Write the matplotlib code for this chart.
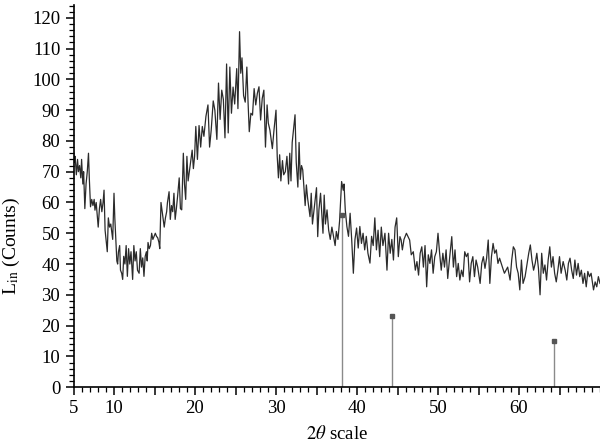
import matplotlib.pyplot as plt
from matplotlib.ticker import MultipleLocator, FixedLocator, FixedFormatter

plt.rcParams['font.family'] = 'Liberation Serif'
plt.rcParams['mathtext.fontset'] = 'stix'

# measured pattern (2theta in degrees, intensity in counts)
two_theta = [
    5.0, 5.1, 5.2, 5.35, 5.5, 5.6, 5.75, 5.9, 6.0, 6.15, 6.25, 6.4, 6.55, 6.7, 6.85, 6.95,
    7.1, 7.25, 7.4, 7.55, 7.65, 7.8, 7.95, 8.05, 8.2, 8.35, 8.5, 8.65, 8.77, 8.9, 9.05, 9.17,
    9.3, 9.45, 9.6, 9.75, 9.84, 10.0, 10.1, 10.25, 10.35, 10.45, 10.55, 10.7, 10.8, 10.95,
    11.07, 11.2, 11.35, 11.5, 11.65, 11.8, 11.95, 12.1, 12.3, 12.45, 12.6, 12.75, 12.9, 13.1,
    13.25, 13.4, 13.55, 13.7, 13.85, 14.0, 14.1, 14.2, 14.35, 14.5, 14.65, 14.8, 14.95, 15.1,
    15.25, 15.4, 15.55, 15.65, 15.8, 15.95, 16.05, 16.2, 16.35, 16.5, 16.6, 16.8, 16.95, 17.1,
    17.25, 17.4, 17.55, 17.7, 17.85, 18.05, 18.2, 18.36, 18.56, 18.7, 18.85, 19.0, 19.15,
    19.3, 19.5, 19.65, 19.8, 19.95, 20.1, 20.3, 20.5, 20.7, 20.9, 21.1, 21.35, 21.6, 21.8,
    22.0, 22.25, 22.45, 22.7, 22.9, 23.1, 23.3, 23.5, 23.7, 23.9, 24.1, 24.3, 24.5, 24.7,
    24.9, 25.15, 25.3, 25.5, 25.65, 25.8, 26.0, 26.2, 26.4, 26.55, 26.7, 26.9, 27.1, 27.3,
    27.5, 27.7, 27.9, 28.1, 28.3, 28.5, 28.7, 28.9, 29.05, 29.25, 29.55, 29.75, 30.0, 30.15,
    30.3, 30.45, 30.6, 30.8, 30.95, 31.15, 31.35, 31.55, 31.7, 31.85, 32.0, 32.35, 32.5,
    32.7, 32.85, 33.0, 33.15, 33.3, 33.6, 33.75, 33.9, 34.2, 34.35, 34.5, 34.7, 35.0, 35.15,
    35.3, 35.5, 35.8, 35.95, 36.1, 36.3, 36.5, 36.7, 36.9, 37.1, 37.3, 37.45, 37.65, 37.85,
    38.1, 38.3, 38.4, 38.55, 38.75, 38.95, 39.15, 39.35, 39.55, 39.75, 39.95, 40.15, 40.35,
    40.55, 40.75, 40.95, 41.15, 41.35, 41.6, 41.8, 42.0, 42.2, 42.4, 42.6, 42.8, 43.0, 43.2,
    43.45, 43.7, 43.9, 44.1, 44.3, 44.5, 44.7, 44.9, 45.1, 45.3, 45.45, 45.6, 45.8, 46.1,
    46.3, 46.5, 46.7, 46.95, 47.2, 47.4, 47.6, 47.8, 48.0, 48.2, 48.4, 48.6, 48.8, 49.0,
    49.2, 49.4, 49.6, 49.8, 50.0, 50.2, 50.4, 50.6, 50.8, 51.0, 51.2, 51.45, 51.7, 51.9,
    52.1, 52.3, 52.5, 52.7, 52.9, 53.1, 53.3, 53.5, 53.7, 53.9, 54.1, 54.3, 54.5, 54.7,
    54.9, 55.2, 55.4, 55.6, 55.8, 56.0, 56.2, 56.4, 56.6, 56.8, 57.0, 57.2, 57.4, 57.6,
    57.8, 58.0, 58.2, 58.4, 58.6, 58.9, 59.1, 59.3, 59.5, 59.7, 59.9, 60.1, 60.3, 60.5,
    60.75, 61.0, 61.2, 61.4, 61.6, 61.8, 62.0, 62.2, 62.4, 62.6, 62.8, 63.0, 63.2, 63.4,
    63.6, 63.8, 64.0, 64.2, 64.4, 64.6, 64.8, 65.0, 65.2, 65.45, 65.7, 65.9, 66.1, 66.3,
    66.5, 66.7, 66.9, 67.1, 67.3, 67.5, 67.7, 67.9, 68.1, 68.3, 68.5, 68.7, 68.9, 69.2,
    69.4, 69.6, 69.8, 70.0,
]
counts = [
    77, 73, 75, 69, 74, 70, 72, 68, 74, 66, 70, 58, 66, 70, 76, 68,
    58.6, 61, 59, 61, 57.5, 60, 55, 52, 58, 61, 57, 60, 64, 51, 47, 44,
    55, 52, 53, 50, 48, 63, 55, 47, 41, 40, 44, 46, 38, 37,
    35, 42.5, 40, 46, 36, 45, 40, 44, 35, 46, 41, 44, 38, 37,
    45, 39, 42, 36, 42.5, 44, 41, 47, 45, 46, 50, 48, 49, 50,
    49, 48.5, 47, 45, 60, 57, 55, 52, 55, 57, 60, 63.5, 54.5, 59,
    57, 63, 54.5, 58, 62, 68, 58, 57.6, 76, 66, 61, 75, 67,
    70, 74, 77, 71, 75, 84.7, 74, 85, 78, 84.7, 81.5, 88, 91.7, 78,
    83.5, 93, 90, 80.5, 98.8, 87, 96.5, 93.5, 81, 105, 82.6, 104, 89, 97.5,
    92, 103.5, 90.5, 115.5, 102, 107, 94.7, 92.6, 104, 92.6, 83, 89, 88.4, 97,
    91.7, 95.5, 97.6, 86.8, 93.8, 96.5, 78, 91.7, 85.8, 83.5, 77.5, 83.5, 90, 75,
    68, 75.5, 67, 73.6, 69, 70, 75, 66, 76, 67, 79.5, 88.5, 73,
    65, 79.5, 67.5, 72, 70.6, 59, 65.7, 61.4, 55.4, 63, 53, 57.6, 64.8, 48.9,
    57.6, 63, 50, 62.4, 53, 57.6, 51, 48, 52, 49, 46, 50.6, 48, 54,
    66.8, 64, 66, 57.6, 52.2, 49, 56.5, 47.7, 37, 48, 51.7, 45.2, 52.2,
    46.7, 50, 44.6, 49, 43.5, 40.3, 49, 46, 55, 44.6, 51, 42.4, 52, 46,
    50, 38, 50, 43.5, 48, 41.3, 52, 55, 42.4, 48.9, 47.8, 44.6, 48, 50,
    48.9, 47.8, 43, 44, 38, 40.8, 36.4, 43.5, 45.6, 39, 46, 32.6, 43, 40.2,
    44.6, 37, 42.4, 44, 50, 43.5, 38, 43.5, 39, 44.6, 35.3, 42.4, 48.9, 39,
    44.6, 35.9, 40.2, 34.8, 38, 35.9, 44, 42.4, 43.5, 34.2, 40.2, 42.4, 35.9, 41.3,
    39, 33.7, 40.2, 42.4, 38.6, 41.9, 47.8, 33.7, 42.4, 46.7, 43.5, 44.6, 40.2, 41.9,
    40.2, 38.6, 37, 38, 39, 34.8, 41.3, 45.6, 44.6, 39, 37, 31.6, 41.3, 33.7,
    35.9, 40.2, 43.5, 46.2, 41.3, 38, 40.2, 43.5, 38.6, 30, 43.5, 37, 39.7, 34.8,
    41.3, 45.6, 39, 42.4, 37, 34.2, 38, 42.4, 37, 40.8, 38, 34.8, 40.2, 41.9,
    38, 35.3, 41.3, 36.4, 40.2, 35.9, 38, 33.7, 37, 32.6, 37.6, 35.9, 37, 31.6,
    34.2, 32.6, 35.9, 33.7,
]

# reference pattern sticks
ref_pos = [38.15, 44.3, 64.3]
ref_height = [56, 23, 15]

fig = plt.figure(figsize=(6, 4.46), dpi=100)
ax = fig.add_axes([0.1225, 0.132, 0.8775, 0.857])

ax.plot(two_theta, counts, color='#2b2b2b', lw=0.9)
ax.vlines(ref_pos, 0, ref_height, color='#8a8a8a', lw=1.0)
ax.plot(ref_pos, ref_height, ls='none', marker='s', ms=3, color='#555555')

ax.set_xlim(5, 70)
ax.set_ylim(0, 124.2)

for s in ['top', 'right']:
    ax.spines[s].set_visible(False)
ax.spines['left'].set_linewidth(1.2)
ax.spines['bottom'].set_linewidth(1.2)

major_x = [5, 10, 15, 20, 25, 30, 35, 40, 45, 50, 55, 60, 65]
major_lbl = ['5', '10', '', '20', '', '30', '', '40', '', '50', '', '60', '']
ax.xaxis.set_major_locator(FixedLocator(major_x))
ax.xaxis.set_major_formatter(FixedFormatter(major_lbl))
ax.xaxis.set_minor_locator(MultipleLocator(1))
ax.yaxis.set_major_locator(MultipleLocator(10))
ax.yaxis.set_minor_locator(MultipleLocator(2))
ax.tick_params(which='major', length=6, width=1.1, labelsize=13.5, direction='out')
ax.tick_params(which='minor', length=3.5, width=0.9, direction='out')

ax.set_xlabel(r'$2\theta$ scale', fontsize=13.5)
ax.xaxis.set_label_coords(0.5, -0.1)
ax.set_ylabel(r'L$_{\rm in}$ (Counts)', fontsize=14)
ax.yaxis.set_label_coords(-0.098, 0.37)

fig.savefig('out.png', dpi=100)
